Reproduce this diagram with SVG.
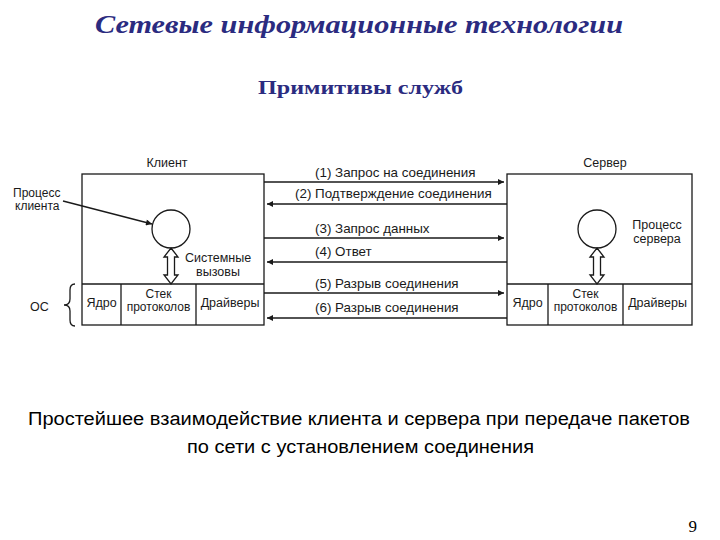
<svg xmlns="http://www.w3.org/2000/svg" width="720" height="540" viewBox="0 0 720 540">
<style>
.t{font-family:"Liberation Sans",Arial,sans-serif;font-size:12.5px;fill:#1a1a1a}
.s{font-size:12px}
.a{font-size:13.4px}
.m{text-anchor:middle}
.b{fill:none;stroke:#1a1a1a;stroke-width:1.3}
.c{stroke:#1a1a1a;stroke-width:1.3;fill:none}
</style>
<defs>
<marker id="ah" viewBox="0 0 10 10" refX="10" refY="5" markerWidth="8" markerHeight="6" markerUnits="userSpaceOnUse" orient="auto">
<path d="M0,0 L10,5 L0,10 z" fill="#1a1a1a"/>
</marker>
</defs>
<rect width="720" height="540" fill="#fff"/>
<text x="359" y="33" text-anchor="middle" font-family="'Liberation Serif','Times New Roman',serif" font-size="26" font-weight="bold" font-style="italic" fill="#2b2b80" textLength="528" lengthAdjust="spacingAndGlyphs">Сетевые информационные технологии</text>
<text x="360.5" y="94" text-anchor="middle" font-family="'Liberation Serif','Times New Roman',serif" font-size="19" font-weight="bold" fill="#2b2b80" textLength="205" lengthAdjust="spacingAndGlyphs">Примитивы служб</text>

<g id="client">
<text class="t m" x="167" y="167">Клиент</text>
<rect class="b" x="82" y="174" width="182" height="151"/>
<line class="b" x1="82" y1="284" x2="264" y2="284"/>
<line class="b" x1="121" y1="284" x2="121" y2="325"/>
<line class="b" x1="196" y1="284" x2="196" y2="325"/>
<circle class="b" cx="171" cy="229" r="19"/>
<polygon class="b" points="171,248 178,257 174.5,257 174.5,275 178,275 171,284 164,275 167.5,275 167.5,257 164,257"/>
<text class="t m" x="218" y="262">Системные</text>
<text class="t m" x="218" y="276">вызовы</text>
<text class="t m" x="101.5" y="307">Ядро</text>
<text class="t s m" x="158.5" y="298">Стек</text>
<text class="t s m" x="158.5" y="311">протоколов</text>
<text class="t m" x="230" y="307">Драйверы</text>
</g>

<g id="client-process-label">
<text class="t s" x="13" y="197">Процесс</text>
<text class="t s" x="15" y="210">клиента</text>
</g>

<g id="os-label">
<text class="t" x="30" y="311">ОС</text>
<path class="c" d="M75,284 Q70,284 70,290 L70,299 Q70,305 64,305 Q70,305 70,311 L70,320 Q70,326 75,326"/>
</g>

<g id="server">
<text class="t m" x="605" y="167">Сервер</text>
<rect class="b" x="507" y="174" width="185" height="151"/>
<line class="b" x1="507" y1="284" x2="692" y2="284"/>
<line class="b" x1="548" y1="284" x2="548" y2="325"/>
<line class="b" x1="623" y1="284" x2="623" y2="325"/>
<circle class="b" cx="597" cy="229" r="19"/>
<polygon class="b" points="597,248 604,257 600.5,257 600.5,275 604,275 597,284 590,275 593.5,275 593.5,257 590,257"/>
<text class="t m" x="657" y="229">Процесс</text>
<text class="t m" x="657" y="243">сервера</text>
<text class="t m" x="527.5" y="307">Ядро</text>
<text class="t s m" x="585.5" y="298">Стек</text>
<text class="t s m" x="585.5" y="311">протоколов</text>
<text class="t m" x="657.5" y="307">Драйверы</text>
</g>

<g id="connectors">
<line class="c" x1="63" y1="201" x2="152" y2="224" marker-end="url(#ah)"/>
<line class="c" x1="264" y1="182" x2="504" y2="182" marker-end="url(#ah)"/>
<line class="c" x1="507" y1="204" x2="267" y2="204" marker-end="url(#ah)"/>
<line class="c" x1="264" y1="238" x2="504" y2="238" marker-end="url(#ah)"/>
<line class="c" x1="507" y1="262" x2="267" y2="262" marker-end="url(#ah)"/>
<line class="c" x1="264" y1="293" x2="504" y2="293" marker-end="url(#ah)"/>
<line class="c" x1="507" y1="318" x2="267" y2="318" marker-end="url(#ah)"/>
<text class="t a" x="315" y="177">(1) Запрос на соединения</text>
<text class="t a" x="295" y="198">(2) Подтверждение соединения</text>
<text class="t a" x="315" y="233">(3) Запрос данных</text>
<text class="t a" x="315" y="256">(4) Ответ</text>
<text class="t a" x="315" y="288">(5) Разрыв соединения</text>
<text class="t a" x="315" y="312">(6) Разрыв соединения</text>
</g>

<text x="359" y="425" text-anchor="middle" font-family="'Liberation Sans Narrow','Liberation Sans',Arial,sans-serif" font-size="18" fill="#000" textLength="662" lengthAdjust="spacingAndGlyphs">Простейшее взаимодействие клиента и сервера при передаче пакетов</text>
<text x="360.5" y="453" text-anchor="middle" font-family="'Liberation Sans Narrow','Liberation Sans',Arial,sans-serif" font-size="18" fill="#000" textLength="347" lengthAdjust="spacingAndGlyphs">по сети с установлением соединения</text>
<text x="697" y="532" text-anchor="end" font-family="'Liberation Serif','Times New Roman',serif" font-size="17" fill="#000">9</text>
</svg>
